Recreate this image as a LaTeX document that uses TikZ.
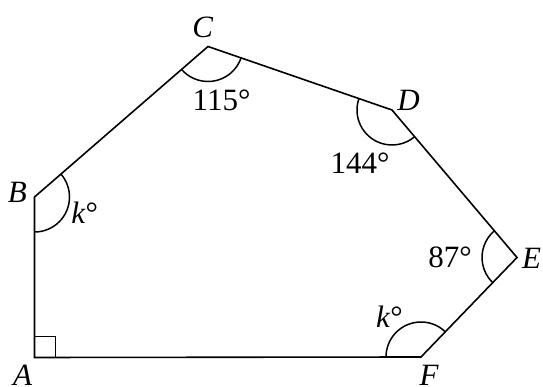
\documentclass[tikz,border=0pt]{standalone}
\usepackage{fontspec}
\setmainfont{Liberation Serif}
\usetikzlibrary{angles}
\newcommand{\lblfont}{\fontsize{31}{33}\selectfont}
\begin{document}
\begin{tikzpicture}[x=1pt,y=1pt,
  edge/.style={line width=1.6pt, line join=miter},
  lbl/.style={inner sep=0pt},
  arcmark/.style={draw, line width=1.5pt, angle radius=35pt}]
\useasboundingbox (0,0) rectangle (543,387);
\coordinate (A) at (34.5,29.5);
\coordinate (B) at (34.5,190);
\coordinate (C) at (208,340.5);
\coordinate (D) at (392,277);
\coordinate (E) at (517,129.5);
\coordinate (F) at (421,30);
\draw[edge] (A) -- (B) -- (C) -- (D) -- (E) -- (F) -- cycle;
\pic[arcmark] {angle=A--B--C};
\pic[arcmark] {angle=B--C--D};
\pic[arcmark] {angle=C--D--E};
\pic[arcmark] {angle=D--E--F};
\pic[arcmark] {angle=E--F--A};
\draw[line width=1.5pt] ([yshift=21pt]A) -| ([xshift=21pt]A);
\node[lbl] (lA) at (22.5,12) {\lblfont\itshape A};
\node[lbl] (lB) at (17.3,195) {\lblfont\itshape B};
\node[lbl] (lC) at (202.6,360) {\lblfont\itshape C};
\node[lbl] (lD) at (408.6,287) {\lblfont\itshape D};
\node[lbl] (lE) at (531.5,129) {\lblfont\itshape E};
\node[lbl] (lF) at (429,12) {\lblfont\itshape F};
\node[lbl] (n115) at (221.6,287) {\lblfont 115°};
\node[lbl] (n144) at (360,224) {\lblfont 144°};
\node[lbl] (n87) at (450,130) {\lblfont 87°};
\node[lbl] (kB) at (84.8,174) {\lblfont\textit{k}°};
\node[lbl] (kF) at (389.5,70) {\lblfont\textit{k}°};
\end{tikzpicture}
\end{document}
